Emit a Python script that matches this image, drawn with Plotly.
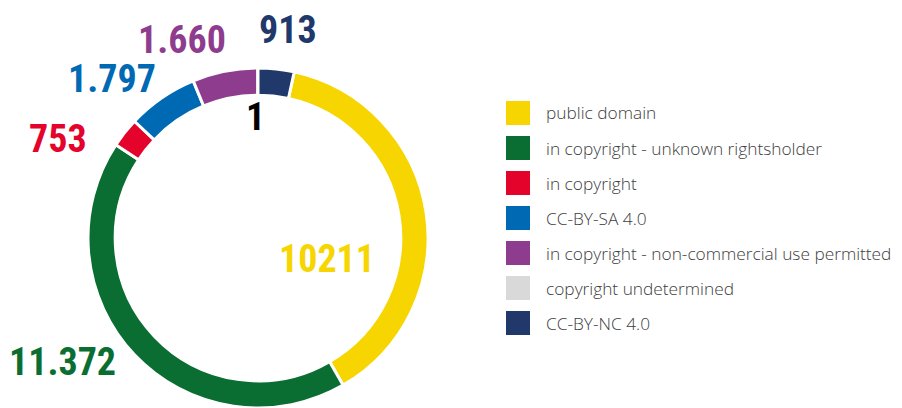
import plotly.graph_objects as go

OFF = 8  # page body margin of the browser
W, H = 902 - OFF, 408 - OFF

categories = [
    "public domain",
    "in copyright - unknown rightsholder",
    "in copyright",
    "CC-BY-SA 4.0",
    "in copyright - non-commercial use permitted",
    "copyright undetermined",
    "CC-BY-NC 4.0",
]
values = [10211, 11372, 753, 1797, 1660, 1, 913]
value_labels = ["10211", "11.372", "753", "1.797", "1.660", "1", "913"]
colors = ["#F7D500", "#0A6E32", "#E4032B", "#0069B4", "#8E3D8E", "#D9D9D9", "#21386B"]
label_colors = ["#F7D500", "#0A6E32", "#E4032B", "#0069B4", "#8E3D8E", "#000000", "#21386B"]
# label centre positions in page pixels
label_pos = [(327, 259), (62, 362), (58, 139), (112, 79), (182, 40), (255, 117), (288, 30)]


def fx(px):
    return (px - OFF) / W


def fy(py):
    return 1 - (py - OFF) / H


total = sum(values)
rotation = values[-1] / total * 360.0

fig = go.Figure()
fig.add_trace(go.Pie(
    labels=categories,
    values=values,
    sort=False,
    direction="clockwise",
    rotation=rotation,
    hole=0.84,
    marker=dict(colors=colors, line=dict(color="white", width=3)),
    textinfo="none",
    showlegend=False,
    domain=dict(x=[fx(88), fx(428)], y=[max(0, fy(408)), fy(68)]),
))

annotations = []
for txt, col, (px, py) in zip(value_labels, label_colors, label_pos):
    annotations.append(dict(
        x=fx(px), y=fy(py), xref="paper", yref="paper",
        text=txt, showarrow=False, xanchor="center", yanchor="middle",
        font=dict(family="Liberation Sans Narrow, Roboto Condensed, Roboto", size=38,
                  color=col, weight="bold"),
    ))

shapes = []
row0, step = 113, 35
for i, (cat, col) in enumerate(zip(categories, colors)):
    cy = row0 + i * step
    shapes.append(dict(type="rect", xref="paper", yref="paper",
                       x0=fx(506), x1=fx(530), y0=fy(cy + 12), y1=fy(cy - 12),
                       fillcolor=col, line=dict(width=0)))
    annotations.append(dict(
        x=fx(544), y=fy(cy), xref="paper", yref="paper",
        text=cat, showarrow=False, xanchor="left", yanchor="middle",
        font=dict(family="Open Sans", size=17.3, color="#404040", weight=300),
    ))

fig.update_layout(
    width=W, height=H,
    margin=dict(l=0, r=0, t=0, b=0),
    paper_bgcolor="white", plot_bgcolor="white",
    annotations=annotations, shapes=shapes,
)

fig.write_html("out.html")
